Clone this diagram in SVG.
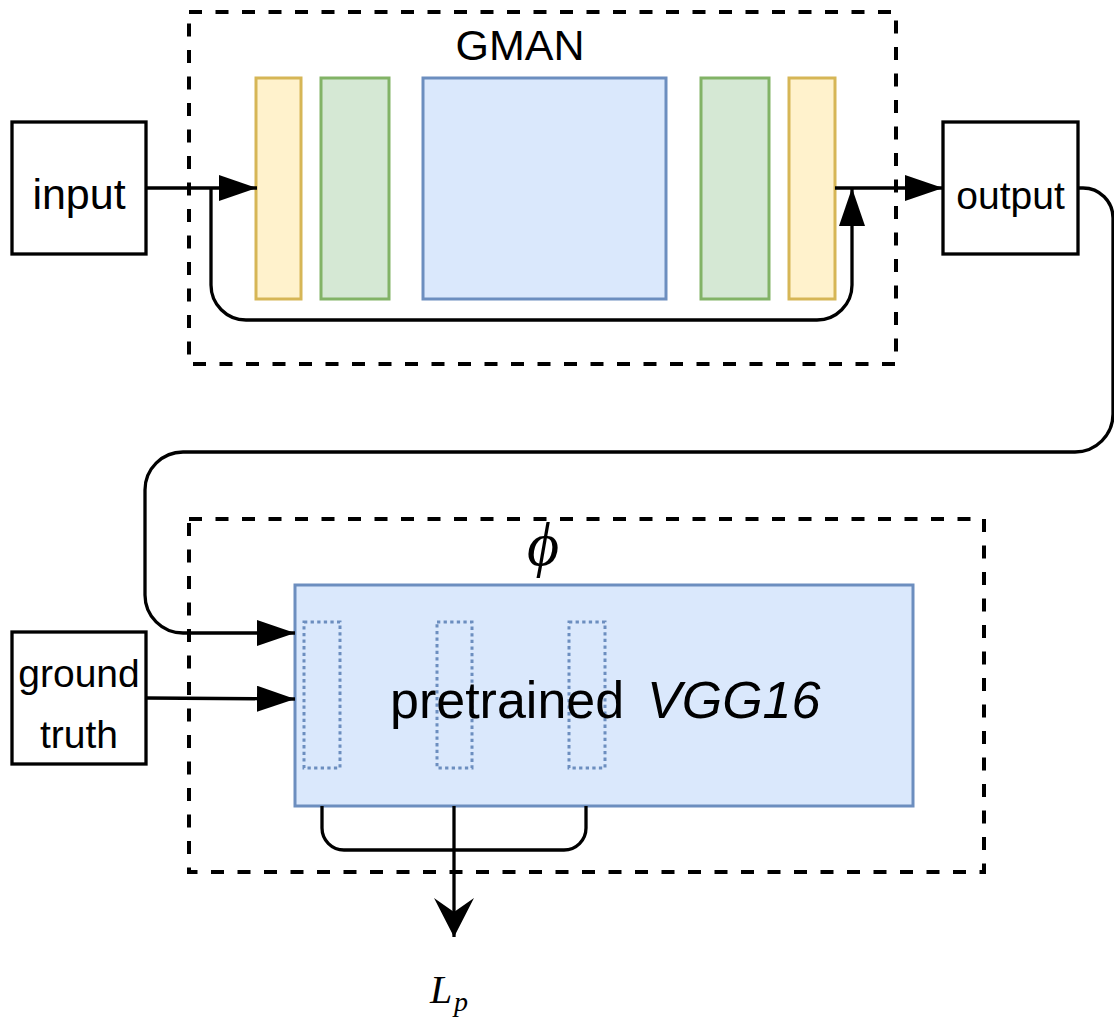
<svg xmlns="http://www.w3.org/2000/svg" width="1114" height="1022" viewBox="0 0 1114 1022">
<style>
.dash{fill:none;stroke:#000;stroke-width:4;stroke-dasharray:13 13.5}
.box{fill:#fff;stroke:#000;stroke-width:3.3}
.yel{fill:#fff2cc;stroke:#d6b656;stroke-width:3}
.grn{fill:#d5e8d4;stroke:#82b366;stroke-width:3}
.blu{fill:#dae8fc;stroke:#6c8ebf;stroke-width:3}
.dot{fill:none;stroke:#6c8ebf;stroke-width:3;stroke-dasharray:3.3 3.3}
.edge{fill:none;stroke:#000;stroke-width:3.3}
.t{font-family:"Liberation Sans",Arial,Helvetica,sans-serif;fill:#000;text-anchor:middle}
.ts{font-family:"Liberation Sans",Arial,Helvetica,sans-serif;fill:#000;text-anchor:start}
.m{font-family:"Liberation Serif","DejaVu Serif","Times New Roman",serif;font-style:italic;fill:#000}
</style>
<defs>
<marker id="tri" markerUnits="userSpaceOnUse" markerWidth="38" markerHeight="26" refX="38" refY="13" orient="auto" viewBox="0 0 38 26">
<path d="M0,0 L38,13 L0,26 Z" fill="#000"/>
</marker>
<marker id="cls" markerUnits="userSpaceOnUse" markerWidth="40" markerHeight="40" refX="39" refY="20" orient="auto" viewBox="0 0 40 40">
<path d="M0,0 L39,20 L0,40 L14,20 Z" fill="#000"/>
</marker>
</defs>

<g id="gman-group">
<rect class="dash" x="189" y="12" width="707" height="352"/>
<text class="t" x="520" y="60" font-size="43">GMAN</text>
</g>
<g id="vgg-group">
<rect class="dash" x="189" y="519" width="795" height="353"/>
<text class="m" x="543" y="565" font-size="62" style="text-anchor:middle">ϕ</text>
</g>

<g id="input"><rect class="box" x="12" y="122" width="134" height="132"/><text class="t" x="79" y="209" font-size="43">input</text></g>
<g id="output"><rect class="box" x="943" y="122" width="135" height="132"/><text class="t" x="1010.5" y="209" font-size="39">output</text></g>
<g id="ground-truth"><rect class="box" x="12" y="632" width="134" height="132"/><text class="t" x="79" y="687" font-size="39">ground</text><text class="t" x="79" y="748" font-size="39">truth</text></g>

<g id="layer-y1"><rect class="yel" x="256" y="78" width="45" height="221"/></g>
<g id="layer-g1"><rect class="grn" x="321" y="78" width="68" height="221"/></g>
<g id="layer-b"><rect class="blu" x="423" y="78" width="243" height="221"/></g>
<g id="layer-g2"><rect class="grn" x="701" y="78" width="68" height="221"/></g>
<g id="layer-y2"><rect class="yel" x="789" y="78" width="46" height="221"/></g>

<g id="vgg16">
<rect class="blu" x="295" y="585" width="618" height="221"/>
<rect class="dot" x="304" y="622" width="36" height="146"/>
<rect class="dot" x="437" y="622" width="35" height="146"/>
<rect class="dot" x="569" y="622" width="36" height="146"/>
<text class="ts" x="390" y="718" font-size="52">pretrained <tspan x="647" font-style="italic">VGG16</tspan></text>
</g>

<g id="lp"><text class="m" x="430" y="1003" font-size="40">L</text><text class="m" x="454" y="1011" font-size="28">p</text></g>

<g id="connectors">
<path class="edge" d="M146,188 L257,188" marker-end="url(#tri)"/>
<path class="edge" d="M211,188 L211,285 A35,35 0 0 0 246,320 L817,320 A35,35 0 0 0 852,285 L852,188" marker-end="url(#tri)"/>
<path class="edge" d="M835,188 L943,188" marker-end="url(#tri)"/>
<path class="edge" d="M1078,188 L1083,188 A30,30 0 0 1 1113,218 L1113,414 A38,38 0 0 1 1075,452 L183,452 A38,38 0 0 0 145,490 L145,595 A38,38 0 0 0 183,633 L295,633" marker-end="url(#tri)"/>
<path class="edge" d="M146,698 L295,699" marker-end="url(#tri)"/>
<path class="edge" d="M322,806 L322,828 A22,22 0 0 0 344,850 L564,850 A22,22 0 0 0 586,828 L586,806"/>
<path class="edge" d="M454,806 L454,937" marker-end="url(#cls)"/>
</g>
</svg>
